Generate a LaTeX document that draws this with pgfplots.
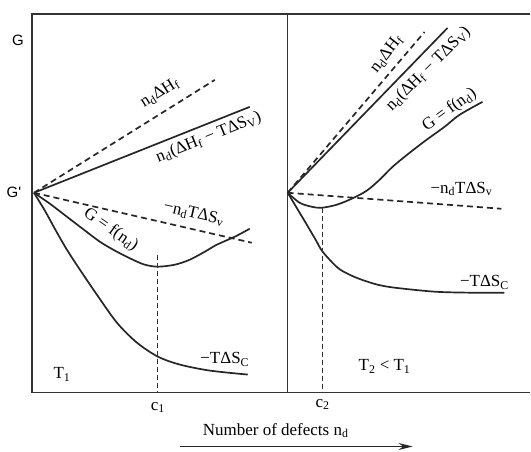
\documentclass[border=0pt]{standalone}
\usepackage{pgfplots}
\pgfplotsset{compat=1.18}
\usetikzlibrary{arrows.meta}
\usepackage{fontspec}
\setmainfont{Liberation Serif}
\newfontfamily\gfont{Liberation Sans}

\newcommand{\nd}{n\textsubscript{d}}

\pgfplotsset{
  panel/.style={scale only axis, hide axis, clip=false, anchor=south west,
    width=#1, height=379pt, ymin=-20, ymax=17.9},
  curve/.style={line width=1.7pt, color=black!85, smooth, no markers},
  eqline/.style={line width=1.7pt, dash pattern=on 6pt off 4pt, color=black!85, no markers},
  cline/.style={line width=0.8pt, dash pattern=on 5pt off 3pt, color=black!80, no markers},
}

\begin{document}
\begin{tikzpicture}[font=\fontsize{17}{20}\selectfont]
\path (0,0) rectangle (531pt,452pt);

% ---------- temperature T1 ----------
\begin{axis}[panel=256pt, at={(32pt,59pt)}, xmin=-0.2, xmax=25.4]
\draw[line width=1.2pt, black!80] (rel axis cs:0,0) rectangle (rel axis cs:1,1);
% enthalpy term
\addplot[eqline] coordinates {(0,0) (18.1,11.3)};
% n_d(dH - T dS_v)
\addplot[curve] coordinates {(0,0) (21.6,8.6)};
% vibrational entropy term
\addplot[eqline] coordinates {(0,0) (21.8,-5.0)};
% free energy G = f(n_d)
\addplot[curve] coordinates {(0,0) (1.6,-1.1) (3.3,-2.4) (5.0,-3.7) (6.6,-4.9) (8.3,-5.9)
  (9.9,-6.7) (11.1,-7.2) (12.4,-7.4) (14.1,-7.2) (15.6,-6.7) (17.1,-5.9) (18.3,-5.2)
  (20.1,-4.4) (21.6,-3.6)};
% configurational entropy term
\addplot[curve] coordinates {(0,0) (1.1,-1.8) (2.2,-3.8) (3.3,-5.7) (4.6,-7.7) (6.3,-10.2)
  (8.3,-13.0) (10.3,-15.0) (12.4,-16.4) (14.6,-17.2) (17.6,-17.8) (21.4,-18.2)};
% equilibrium concentration c1
\addplot[cline] coordinates {(12.4,-6.2) (12.4,-20.0)};

\node[font=\gfont\fontsize{15}{18}\selectfont] at (axis cs:-1.6,15.3) {G};
\node[font=\gfont\fontsize{15}{18}\selectfont] at (axis cs:-2.0,0) {G'};
\node[rotate=32] at (axis cs:12.6,10.0) {\nd ΔH\textsubscript{f}};
\node[rotate=22] at (axis cs:17.5,5.5) {\nd(ΔH\textsubscript{f} − TΔS\textsubscript{V})};
\node[rotate=-13] at (axis cs:16.0,-2.1) {−\nd TΔS\textsubscript{v}};
\node[rotate=-35] at (axis cs:7.7,-3.7) {G = f(\nd)};
\node at (axis cs:19.1,-16.7) {−TΔS\textsubscript{C}};
\node at (axis cs:2.8,-18.2) {T\textsubscript{1}};
\node at (axis cs:12.4,-21.5) {c\textsubscript{1}};
\end{axis}

% ---------- temperature T2 < T1 ----------
\begin{axis}[panel=243pt, at={(288pt,59pt)}, xmin=0, xmax=24.3]
\draw[line width=1.2pt, black!80] (rel axis cs:1,1) -- (rel axis cs:0,1)
  -- (rel axis cs:0,0) -- (rel axis cs:1,0);
\addplot[eqline] coordinates {(0,0) (13.7,16.1)};
\addplot[curve] coordinates {(0,0) (16.0,16.5)};
\addplot[eqline] coordinates {(0,0) (21.4,-1.6)};
\addplot[curve] coordinates {(0,0) (1.2,-1.0) (2.4,-1.4) (3.4,-1.5) (4.9,-1.2) (6.4,-0.6)
  (7.9,0.2) (9.2,1.3) (10.5,2.6) (12.2,4.0) (13.9,5.3) (15.7,6.6) (17.2,7.8) (19.5,9.1)};
\addplot[curve] coordinates {(0,0) (0.9,-1.5) (1.8,-3.0) (2.8,-4.7) (3.5,-5.9) (5.0,-7.5)
  (6.2,-8.2) (7.4,-8.7) (9.0,-9.2) (10.7,-9.5) (14.7,-9.9) (18.2,-10.0) (21.7,-10.0)};
\addplot[cline] coordinates {(3.5,-1.5) (3.5,-20.0)};

\node[rotate=52] at (axis cs:9.9,13.9) {\nd ΔH\textsubscript{f}};
\node[rotate=45] at (axis cs:14.1,12.4) {\nd(ΔH\textsubscript{f} − TΔS\textsubscript{V})};
\node[rotate=36] at (axis cs:16.2,8.3) {G = f(\nd)};
\node at (axis cs:17.4,0.4) {−\nd TΔS\textsubscript{v}};
\node at (axis cs:19.7,-9.0) {−TΔS\textsubscript{C}};
\node at (axis cs:9.7,-17.4) {T\textsubscript{2} < T\textsubscript{1}};
\node at (axis cs:3.5,-21.2) {c\textsubscript{2}};
\end{axis}

% axis caption with direction arrow
\node at (276pt,21pt) {Number of defects \nd};
\draw[line width=1.2pt, black!85, -{Stealth[length=14pt,width=7pt]}] (180pt,5pt) -- (413pt,5pt);
\end{tikzpicture}
\end{document}
